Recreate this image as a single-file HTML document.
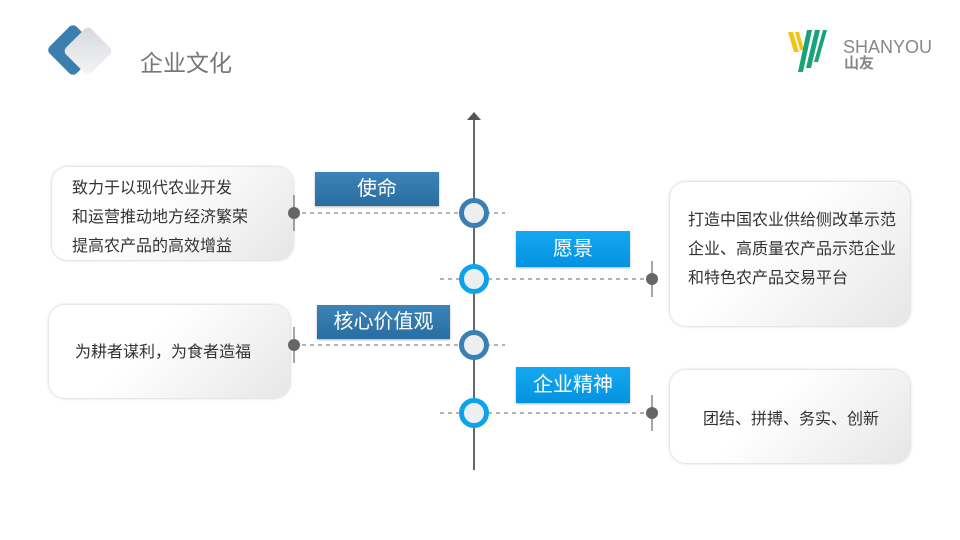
<!DOCTYPE html>
<html><head><meta charset="utf-8"><style>
body{margin:0;width:960px;height:540px;background:#fff;position:relative;overflow:hidden;font-family:"Liberation Sans","Noto Sans CJK SC",sans-serif}
.a{position:absolute}
.card{position:absolute;border-radius:16px;background:linear-gradient(135deg,#fff 40%,#e6e6e8);box-shadow:0 0 3px rgba(0,0,0,.25);color:#333;font-size:16px;line-height:29px}
.lab{position:absolute;color:#fff;font-size:20px;text-align:center;box-shadow:0 1px 2px rgba(0,0,0,.3)}
.dk{background:linear-gradient(#3b83b8,#2a6ea0)}
.br{background:linear-gradient(#14a8f0,#0592e0)}
</style></head><body>
<div class="a" style="left:54px;top:31px;width:38px;height:38px;background:#3a7fae;transform:rotate(45deg);border-radius:5px"></div>
<div class="a" style="left:70px;top:33px;width:36px;height:36px;background:linear-gradient(135deg,#d5d8dc,#f5f6f7);transform:rotate(45deg);border-radius:5px"></div>
<div class="a" style="left:140px;top:44px;font-size:23px;color:#777">企业文化</div>
<svg class="a" style="left:785px;top:28px" width="60" height="46">
<g fill="#f0c419"><path d="M3 4 L8 4 L14 24 L9 24Z"/><path d="M10 4 L14 4 L19 22 L15 22Z"/></g>
<g fill="#1aa37a"><path d="M22 2 L27 2 L18 44 L13 44Z"/><path d="M30 2 L35 2 L26 40 L21 40Z"/><path d="M38 2 L42 2 L33 34 L29 34Z"/></g>
</svg>
<div class="a" style="left:843px;top:37px;font-size:18px;color:#888">SHANYOU</div>
<div class="a" style="left:844px;top:56px;font-size:15px;color:#888;font-weight:bold;line-height:16px">山友</div>
<div class="a" style="left:473px;top:120px;width:2px;height:350px;background:#666"></div>
<div class="a" style="left:467px;top:112px;width:0;height:0;border-left:7px solid transparent;border-right:7px solid transparent;border-bottom:8px solid #555"></div>
<div class="card" style="left:52px;top:167px;width:241px;height:93px"><div style="padding:7px 0 0 20px">致力于以现代农业开发<br>和运营推动地方经济繁荣<br>提高农产品的高效增益</div></div>
<div class="card" style="left:49px;top:305px;width:241px;height:93px"><div style="padding:33px 0 0 26px">为耕者谋利，为食者造福</div></div>
<div class="card" style="left:670px;top:182px;width:240px;height:144px"><div style="padding:24px 0 0 18px">打造中国农业供给侧改革示范<br>企业、高质量农产品示范企业<br>和特色农产品交易平台</div></div>
<div class="card" style="left:670px;top:370px;width:240px;height:93px"><div style="padding:35px 0 0 33px">团结、拼搏、务实、创新</div></div>
<svg class="a" style="left:0;top:0" width="960" height="540">
<g stroke="#888" stroke-dasharray="4,4" stroke-width="1.3">
<line x1="294" y1="213" x2="505" y2="213"/><line x1="440" y1="279" x2="652" y2="279"/>
<line x1="294" y1="345" x2="505" y2="345"/><line x1="440" y1="413" x2="652" y2="413"/>
</g>
<g stroke="#777" stroke-width="1.3"><line x1="294" y1="195" x2="294" y2="231"/><line x1="294" y1="327" x2="294" y2="363"/>
<line x1="652" y1="261" x2="652" y2="297"/><line x1="652" y1="395" x2="652" y2="431"/></g>
<g fill="#666"><circle cx="294" cy="213" r="6"/><circle cx="294" cy="345" r="6"/><circle cx="652" cy="279" r="6"/><circle cx="652" cy="413" r="6"/></g>
<g fill="#eceef0" stroke-width="5">
<circle cx="474" cy="213" r="12.5" stroke="#3a80b4"/><circle cx="474" cy="279" r="12.5" stroke="#0ba4ec"/>
<circle cx="474" cy="345" r="12.5" stroke="#3a80b4"/><circle cx="474" cy="413" r="12.5" stroke="#0ba4ec"/>
</g>
</svg>
<div class="lab dk" style="left:315px;top:172px;width:124px;height:34px;line-height:34px">使命</div>
<div class="lab br" style="left:516px;top:231px;width:114px;height:36px;line-height:36px">愿景</div>
<div class="lab dk" style="left:317px;top:305px;width:133px;height:34px;line-height:34px">核心价值观</div>
<div class="lab br" style="left:516px;top:367px;width:114px;height:36px;line-height:36px">企业精神</div>
</body></html>
